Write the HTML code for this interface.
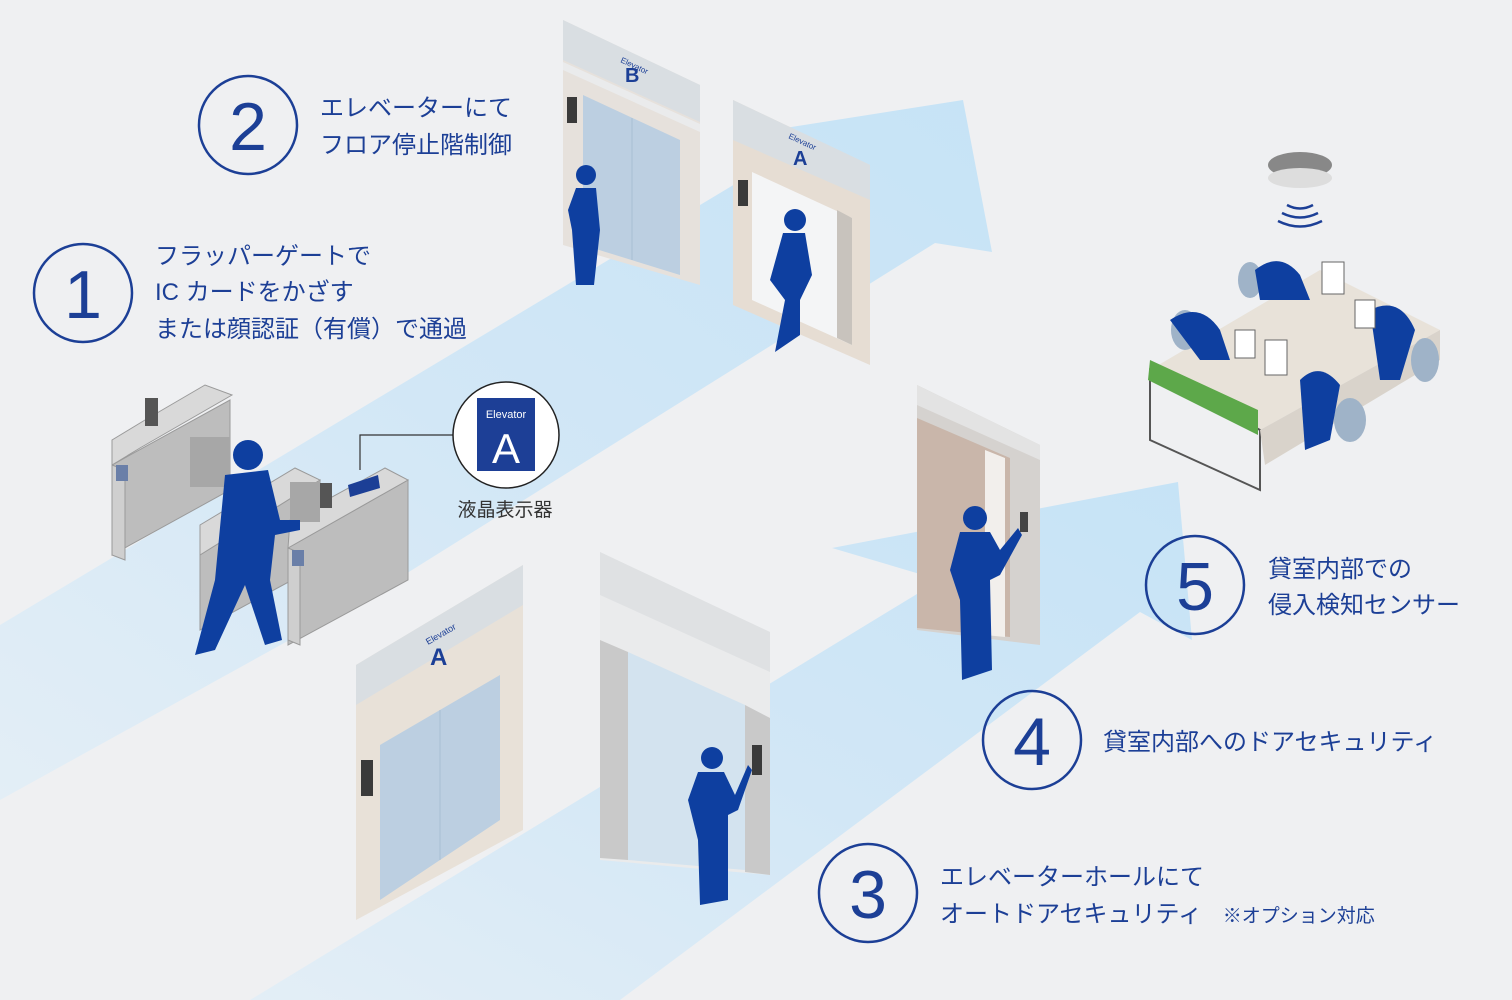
<!DOCTYPE html>
<html><head><meta charset="utf-8"><style>
html,body{margin:0;padding:0;background:#eff0f2;}
svg{display:block}
.t{font-family:"Liberation Sans","Noto Sans CJK JP",sans-serif;fill:#1c3f96;font-size:24px;}
.n{font-family:"Liberation Sans",sans-serif;fill:#1c3f96;font-size:68px;}
</style></head><body>
<svg width="1512" height="1000" viewBox="0 0 1512 1000" xmlns="http://www.w3.org/2000/svg">
<defs>
<linearGradient id="g1" x1="0" y1="1" x2="1" y2="0"><stop offset="0" stop-color="#e3eef6"/><stop offset="0.5" stop-color="#d2e7f6"/><stop offset="1" stop-color="#c6e3f6"/></linearGradient>
</defs>
<rect width="1512" height="1000" fill="#eff0f2"/>
<polygon points="0,625 800,145 785,128 963,100 992,252 935,243 380,590 0,800" fill="url(#g1)"/>
<polygon points="250,1000 940,580 832,548 1178,482 1192,640 1140,612 620,1000" fill="url(#g1)"/>

<!-- Elevator B -->
<polygon points="563,20 700,85 700,285 563,245" fill="#e6e1dc"/>
<polygon points="563,20 700,85 700,122 563,60" fill="#d9dee2"/>
<polygon points="563,62 700,124 700,132 563,70" fill="#eaebec"/>
<polygon points="583,95 680,140 680,275 583,245" fill="#bccfe1"/>
<line x1="632" y1="118" x2="632" y2="260" stroke="#a9bfd4"/>
<rect x="567" y="97" width="10" height="26" fill="#3a3a3a"/>
<text x="620" y="62" font-family="Liberation Sans" font-size="8" fill="#1c3f96" transform="rotate(25 620 62)">Elevator</text>
<text x="625" y="82" font-family="Liberation Sans" font-weight="bold" font-size="20" fill="#1c3f96">B</text>

<!-- Elevator A upper -->
<polygon points="733,100 870,165 870,365 733,305" fill="#e6ddd3"/>
<polygon points="733,100 870,165 870,200 733,140" fill="#d9dee2"/>
<polygon points="752,172 852,218 852,345 752,300" fill="#f4f5f6"/>
<polygon points="837,210 852,218 852,345 837,338" fill="#c8c3bd"/>
<rect x="738" y="180" width="10" height="26" fill="#3a3a3a"/>
<text x="788" y="138" font-family="Liberation Sans" font-size="8" fill="#1c3f96" transform="rotate(25 788 138)">Elevator</text>
<text x="793" y="165" font-family="Liberation Sans" font-weight="bold" font-size="20" fill="#1c3f96">A</text>

<!-- Elevator A lower -->
<polygon points="356,665 523,565 523,830 356,920" fill="#e8e1d8"/>
<polygon points="356,665 523,565 523,605 356,705" fill="#d9dee2"/>
<polygon points="380,745 500,675 500,820 380,900" fill="#bccfe1"/>
<line x1="440" y1="710" x2="440" y2="860" stroke="#a9bfd4"/>
<rect x="361" y="760" width="12" height="36" fill="#3a3a3a"/>
<text x="428" y="645" font-family="Liberation Sans" font-size="9" fill="#1c3f96" transform="rotate(-30 428 645)">Elevator</text>
<text x="430" y="665" font-family="Liberation Sans" font-weight="bold" font-size="24" fill="#1c3f96">A</text>

<!-- lower right elevator -->
<polygon points="600,552 770,632 770,875 600,860" fill="#eaebec"/>
<polygon points="600,552 770,632 770,672 600,595" fill="#dfe1e3"/>
<polygon points="600,640 628,652 628,860 600,858" fill="#c9c9c9"/>
<polygon points="628,652 745,705 745,870 628,860" fill="#d3e3ef"/>
<polygon points="745,705 770,718 770,875 745,872" fill="#c9c9c9"/>
<rect x="752" y="745" width="10" height="30" fill="#3a3a3a"/>

<!-- door 4 -->
<polygon points="917,385 1040,445 1040,645 917,630" fill="#d5d2cf"/>
<polygon points="917,385 1040,445 1040,460 917,405" fill="#e3e3e3"/>
<polygon points="917,418 1010,458 1010,637 917,628" fill="#c9b6aa"/>
<polygon points="985,450 1005,458 1005,637 985,635" fill="#f2efec"/>
<rect x="1020" y="512" width="8" height="20" fill="#444"/>

<!-- gates: box = front face(side) + top + end -->
<g stroke="#9a9a9a" stroke-width="1">
<!-- gate1 -->
<polygon points="112,465 112,555 230,490 230,400" fill="#bdbdbd"/>
<polygon points="112,465 140,448 232,395 205,385 145,420 112,440" fill="#d9d9d9"/>
<polygon points="112,465 125,470 125,560 112,555" fill="#cfcfcf"/>
<!-- gate2 -->
<polygon points="200,555 200,630 320,565 320,480" fill="#bdbdbd"/>
<polygon points="200,555 320,480 295,468 200,525" fill="#d9d9d9"/>
<!-- gate3 -->
<polygon points="288,548 288,645 408,580 408,480" fill="#bdbdbd"/>
<polygon points="288,548 408,480 385,468 290,520" fill="#d9d9d9"/>
<polygon points="288,548 300,553 300,645 288,640" fill="#cfcfcf"/>
</g>
<rect x="145" y="398" width="13" height="28" fill="#555"/>
<rect x="320" y="483" width="12" height="25" fill="#555"/>
<rect x="116" y="465" width="12" height="16" fill="#6a7fa8"/>
<rect x="292" y="550" width="12" height="16" fill="#6a7fa8"/>
<polygon points="348,485 378,475 380,488 350,497" fill="#1c3f96"/>
<rect x="190" y="437" width="40" height="50" fill="#a7a7a7"/>
<rect x="290" y="482" width="30" height="40" fill="#a7a7a7"/>

<!-- callout -->
<polyline points="360,470 360,435 455,435" fill="none" stroke="#333" stroke-width="1.2"/>
<circle cx="506" cy="435" r="53" fill="#fff" stroke="#222" stroke-width="1.5"/>
<rect x="477" y="398" width="58" height="73" fill="#1d3f96"/>
<text x="506" y="418" text-anchor="middle" font-family="Liberation Sans" font-size="11" fill="#fff">Elevator</text>
<text x="506" y="463" text-anchor="middle" font-family="Liberation Sans" font-size="42" fill="#fff">A</text>
<text x="505" y="516" text-anchor="middle" font-family="Liberation Sans,Noto Sans CJK JP,sans-serif" font-size="19" fill="#333">液晶表示器</text>

<!-- people -->
<g fill="#0e3fa0">
<circle cx="248" cy="455" r="15"/>
<path d="M225,475 L268,470 L280,520 L300,520 L300,530 L275,535 L270,580 L282,640 L265,645 L245,585 L215,650 L195,655 L215,580 Z"/>
<circle cx="586" cy="175" r="10"/>
<path d="M576,188 L596,188 L600,230 L594,285 L576,285 L572,230 L568,210 Z"/>
<circle cx="795" cy="220" r="11"/>
<path d="M783,233 L805,233 L812,275 L800,300 L800,335 L775,352 L785,300 L770,280 Z"/>
<circle cx="975" cy="518" r="12"/>
<path d="M960,532 L990,532 L1000,550 L1018,528 L1022,535 L1000,575 L990,580 L992,670 L962,680 L960,600 L950,570 Z"/>
<circle cx="712" cy="758" r="11"/>
<path d="M698,772 L724,772 L735,795 L748,765 L752,770 L738,810 L728,815 L728,900 L700,905 L698,840 L688,800 Z"/>
</g>

<!-- office -->
<ellipse cx="1300" cy="165" rx="32" ry="13" fill="#888"/>
<ellipse cx="1300" cy="178" rx="32" ry="10" fill="#ddd"/>
<path d="M1287,205 Q1300,212 1313,205 M1282,213 Q1300,222 1318,213 M1278,221 Q1300,232 1322,221" stroke="#1c3f96" stroke-width="2.5" fill="none"/>
<polygon points="1150,370 1320,270 1440,330 1260,430" fill="#e8e2d9"/>
<polygon points="1150,370 1260,430 1260,490 1150,440" fill="none" stroke="#555" stroke-width="2"/>
<polygon points="1148,380 1258,435 1258,410 1150,360" fill="#5da84a"/>
<polygon points="1260,430 1440,330 1440,360 1265,465" fill="#d9d3cb"/>
<g fill="#9fb3c8"><ellipse cx="1185" cy="330" rx="14" ry="20"/><ellipse cx="1425" cy="360" rx="14" ry="22"/><ellipse cx="1350" cy="420" rx="16" ry="22"/><ellipse cx="1250" cy="280" rx="12" ry="18"/></g>
<g fill="#0e3fa0">
<path d="M1170,320 Q1200,300 1220,330 L1230,360 L1200,360 Z"/>
<path d="M1255,270 Q1280,250 1300,275 L1310,300 L1260,300 Z"/>
<path d="M1370,310 Q1400,295 1415,330 L1400,380 L1380,380 Z"/>
<path d="M1300,380 Q1320,360 1340,385 L1330,440 L1305,450 Z"/>
</g>
<rect x="1322" y="262" width="22" height="32" fill="#fff" stroke="#666"/>
<rect x="1265" y="340" width="22" height="35" fill="#fff" stroke="#666"/>
<rect x="1355" y="300" width="20" height="28" fill="#fff" stroke="#666"/>
<rect x="1235" y="330" width="20" height="28" fill="#fff" stroke="#666"/>

<!-- numbered circles -->
<g fill="none" stroke="#1c3f96" stroke-width="2.5">
<circle cx="83" cy="293" r="49"/><circle cx="248" cy="125" r="49"/>
<circle cx="868" cy="893" r="49"/><circle cx="1032" cy="740" r="49"/><circle cx="1195" cy="585" r="49"/>
</g>
<text class="n" x="83" y="318" text-anchor="middle">1</text>
<text class="n" x="248" y="150" text-anchor="middle">2</text>
<text class="n" x="868" y="918" text-anchor="middle">3</text>
<text class="n" x="1032" y="765" text-anchor="middle">4</text>
<text class="n" x="1195" y="610" text-anchor="middle">5</text>

<text class="t" x="320" y="116">エレベーターにて</text>
<text class="t" x="320" y="153">フロア停止階制御</text>
<text class="t" x="155" y="264">フラッパーゲートで</text>
<text class="t" x="155" y="300">IC カードをかざす</text>
<text class="t" x="155" y="337">または顔認証（有償）で通過</text>
<text class="t" x="940" y="885">エレベーターホールにて</text>
<text class="t" x="940" y="922">オートドアセキュリティ <tspan font-size="19" dx="14">※オプション対応</tspan></text>
<text class="t" x="1103" y="750">貸室内部へのドアセキュリティ</text>
<text class="t" x="1268" y="577">貸室内部での</text>
<text class="t" x="1268" y="613">侵入検知センサー</text>
</svg>
</body></html>
